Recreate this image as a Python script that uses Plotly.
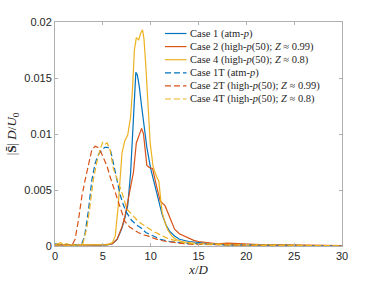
import plotly.graph_objects as go

# ---- data ----
x_case1 = [0, 0.5, 1, 1.5, 2, 3, 4, 5, 5.5, 6, 6.5, 7.0, 7.3, 7.6, 7.9, 8.1, 8.3, 8.45, 8.6, 8.8, 9.05, 9.3, 9.6, 10.0, 10.4, 10.8, 11.2, 11.6, 12.0, 12.5, 13, 14, 15, 16, 17, 18, 20, 22, 24, 26, 28, 30]
y_case1 = [0.0002, 0.0001, 0.0001, 0.00005, 0, 0, 0, 0.00005, 0.0001, 0.0002, 0.0006, 0.0016, 0.0025, 0.0036, 0.0065, 0.0100, 0.0140, 0.0155, 0.0153, 0.0143, 0.0125, 0.0108, 0.0088, 0.0069, 0.0055, 0.0040, 0.0028, 0.0019, 0.0013, 0.0009, 0.0006, 0.0004, 0.0003, 0.0002, 0.00015, 0.0001, 0.0001, 0.00005, 0.00005, 0.00003, 0.00002, 0.00001]

x_case2 = [0, 1, 2, 3, 4, 5, 5.5, 6, 6.5, 6.8, 7.0, 7.3, 7.65, 8.0, 8.2, 8.5, 8.8, 9.05, 9.25, 9.4, 9.6, 9.9, 10.2, 10.6, 11.0, 11.5, 12.0, 12.5, 13.0, 13.5, 14.0, 14.5, 15, 16, 17, 18, 19, 20, 22, 24, 26, 28, 30]
y_case2 = [0.0001, 0.0001, 0.00005, 0.00005, 0.0001, 0.0001, 0.00015, 0.0002, 0.0006, 0.0012, 0.0017, 0.0026, 0.0041, 0.0059, 0.0066, 0.0092, 0.0100, 0.0105, 0.0100, 0.0090, 0.0072, 0.0070, 0.0069, 0.0054, 0.0040, 0.0036, 0.0025, 0.0015, 0.0011, 0.0009, 0.0007, 0.0005, 0.0004, 0.0003, 0.0002, 0.00025, 0.0002, 0.00015, 0.0001, 0.0001, 0.00005, 0.00005, 0.00003]

x_case4 = [0, 0.3, 0.6, 0.9, 1.2, 1.5, 2, 3, 4, 5, 5.5, 6.0, 6.3, 6.6, 6.8, 7.0, 7.3, 7.6, 7.9, 8.1, 8.3, 8.5, 8.75, 8.95, 9.15, 9.3, 9.5, 9.75, 9.95, 10.25, 10.6, 10.85, 11.0, 11.2, 11.5, 11.8, 12.2, 12.6, 13.2, 14, 15, 16, 17, 18, 20, 22, 24, 26, 28, 30]
y_case4 = [0.0001, 0.0002, 0.0003, 0.0001, 0.0002, 0.0001, 0.0001, 0.00005, 0.0001, 0.0001, 0.0001, 0.0003, 0.0009, 0.0035, 0.0062, 0.0083, 0.0094, 0.0099, 0.0115, 0.0140, 0.0175, 0.0186, 0.0184, 0.0190, 0.0193, 0.0185, 0.0160, 0.0125, 0.0092, 0.0071, 0.0062, 0.0058, 0.0045, 0.0030, 0.0021, 0.0014, 0.0009, 0.0006, 0.0004, 0.0003, 0.0002, 0.0002, 0.0002, 0.00015, 0.0001, 0.0001, 0.00005, 0.00005, 0.00003, 0.00002]

x_case1t = [0, 1, 2, 2.8, 3.1, 3.5, 3.85, 4.2, 4.5, 4.9, 5.2, 5.5, 5.75, 5.95, 6.25, 6.5, 6.8, 7.1, 7.4, 8.0, 8.5, 9.0, 9.5, 10, 10.5, 11, 12, 13, 14, 15, 16, 18, 20, 22, 25, 28, 30]
y_case1t = [0.0001, 0.00005, 0.00005, 0.0002, 0.0009, 0.0032, 0.0059, 0.0074, 0.0081, 0.0086, 0.0088, 0.0088, 0.0087, 0.0080, 0.0068, 0.0058, 0.0046, 0.0038, 0.0031, 0.0023, 0.0019, 0.0016, 0.0012, 0.0010, 0.0008, 0.0006, 0.0004, 0.0003, 0.0002, 0.0002, 0.00015, 0.0001, 0.0001, 0.00005, 0.00005, 0.00003, 0.00002]

x_case2t = [0, 1, 1.8, 2.1, 2.45, 2.8, 3.15, 3.5, 3.85, 4.2, 4.5, 4.85, 5.15, 5.45, 5.75, 6.25, 6.8, 7.3, 7.8, 8.2, 8.7, 9.2, 9.7, 10.3, 11, 11.7, 12.5, 13.5, 14.5, 16, 18, 20, 22, 25, 28, 30]
y_case2t = [0.0001, 0.00005, 0.0001, 0.0006, 0.0023, 0.0044, 0.0059, 0.0074, 0.0086, 0.0089, 0.0088, 0.0083, 0.0077, 0.0071, 0.0062, 0.0049, 0.0033, 0.0022, 0.0017, 0.00145, 0.0012, 0.0010, 0.0009, 0.0007, 0.0005, 0.0004, 0.0003, 0.0002, 0.00015, 0.0001, 0.0001, 0.00005, 0.00005, 0.00003, 0.00002, 0.00001]

x_case4t = [0, 1, 2, 2.9, 3.3, 3.65, 4.0, 4.35, 4.7, 5.0, 5.25, 5.45, 5.75, 6.1, 6.6, 7.1, 7.5, 8.2, 8.7, 9.2, 9.7, 10.3, 11.0, 11.7, 12.5, 13.5, 14.5, 16, 18, 20, 22, 25, 28, 30]
y_case4t = [0.0001, 0.0001, 0.00005, 0.0002, 0.0015, 0.0035, 0.0059, 0.0074, 0.0086, 0.0093, 0.0091, 0.0092, 0.0086, 0.0069, 0.0057, 0.0045, 0.0033, 0.0026, 0.0022, 0.0019, 0.0016, 0.0013, 0.0010, 0.0007, 0.0005, 0.0003, 0.0002, 0.00015, 0.0001, 0.0001, 0.00005, 0.00005, 0.00003, 0.00002]

names = [
    "Case 1 (atm-<i>p</i>)",
    "Case 2 (high-<i>p</i>(50); <i>Z</i> ≈ 0.99)",
    "Case 4 (high-<i>p</i>(50); <i>Z</i> ≈ 0.8)",
    "Case 1T (atm-<i>p</i>)",
    "Case 2T (high-<i>p</i>(50); <i>Z</i> ≈ 0.99)",
    "Case 4T (high-<i>p</i>(50); <i>Z</i> ≈ 0.8)",
]
xs = [x_case1, x_case2, x_case4, x_case1t, x_case2t, x_case4t]
ys = [y_case1, y_case2, y_case4, y_case1t, y_case2t, y_case4t]
colors = ["#0072BD", "#D95319", "#EDB120", "#0072BD", "#D95319", "#EDB120"]
dashes = ["solid", "solid", "solid", "6px,3px", "6px,3px", "6px,3px"]

x_ticks = [0, 5, 10, 15, 20, 25, 30]
y_ticks = [0, 0.005, 0.01, 0.015, 0.02]
y_ticktext = ["0", "0.005", "0.01", "0.015", "0.02"]

W, H = 376, 282
ML, MR, MT, MB = 55, 34, 22, 36
PW, PH = W - ML - MR, H - MT - MB

def px2paper_x(px):
    return (px - ML) / PW

def px2paper_y(py):
    return (H - MB - py) / PH

fig = go.Figure()
for xv, yv, nm, c, d in zip(xs, ys, names, colors, dashes):
    fig.add_trace(go.Scatter(x=xv, y=yv, mode="lines", name=nm, showlegend=False,
                             line=dict(color=c, width=1.2, dash=d)))

# manual legend (compact row spacing as in the reference)
serif = "Liberation Serif, DejaVu Serif, serif"
for i, (nm, c, d) in enumerate(zip(names, colors, dashes)):
    py = 33.5 + 13.1 * i
    fig.add_shape(type="line", xref="paper", yref="paper",
                  x0=px2paper_x(165), x1=px2paper_x(186.5),
                  y0=px2paper_y(py), y1=px2paper_y(py),
                  line=dict(color=c, width=1.2, dash=d))
    fig.add_annotation(xref="paper", yref="paper", x=px2paper_x(188), y=px2paper_y(py),
                       xanchor="left", yanchor="middle", text=nm, showarrow=False,
                       font=dict(family=serif, size=10.5, color="#262626"))

axis_common = dict(showline=True, mirror="ticks", linecolor="#b0b0b0", linewidth=1,
                   ticks="inside", ticklen=3, tickcolor="#b0b0b0",
                   showgrid=False, zeroline=False, automargin=False,
                   tickfont=dict(family="Liberation Sans, Arial", size=11, color="#262626"))

fig.update_layout(
    width=W, height=H,
    margin=dict(l=ML, r=MR, t=MT, b=MB),
    paper_bgcolor="white", plot_bgcolor="white",
    showlegend=False,
    xaxis=dict(range=[0, 30], tickvals=x_ticks,
               title=dict(text="<i>x</i>/<i>D</i>", standoff=2,
                          font=dict(family=serif, size=13, color="#262626")),
               **axis_common),
    yaxis=dict(range=[0, 0.02], tickvals=y_ticks, ticktext=y_ticktext,
               title=dict(text="|<b>S̄</b>| <i>D</i>/<i>U</i><sub>0</sub>", standoff=4,
                          font=dict(family=serif, size=13, color="#262626")),
               **axis_common),
)

fig.write_html("out.html", config={"displayModeBar": False, "staticPlot": True},
               post_script="document.body.style.margin='0';document.body.style.overflow='hidden';")
